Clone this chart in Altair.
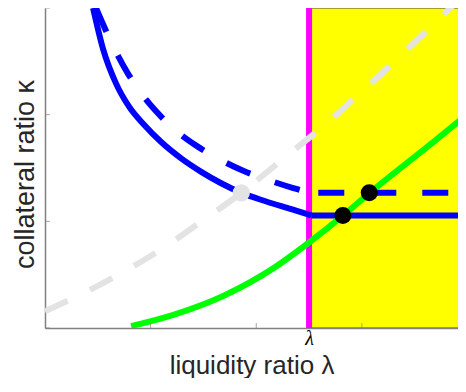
import altair as alt
import pandas as pd

# ---- data ----
LAMBDA = 2.5
X_DOMAIN = [0, 3.91]
Y_DOMAIN = [0, 3]
x_tick_values = [1, 2, 3]
y_tick_values = [0, 1, 2, 3]

region_x = [2.5, 4.0]
region_y = [0.0, 3.0]

# blue solid: curved part, then flat part right of lambda
blue_solid_x = [0.455, 0.550, 0.673, 0.796, 0.938, 1.100, 1.289, 1.479, 1.668, 1.858, 2.095, 2.332, 2.521]
blue_solid_y = [3.0, 2.615, 2.291, 2.075, 1.905, 1.743, 1.590, 1.464, 1.357, 1.267, 1.186, 1.114, 1.055]
blue_solid_flat_x = [2.521, 4.0]
blue_solid_flat_y = [1.055, 1.055]

# blue dashed: curved part, then flat part right of lambda
blue_dash_x = [0.483, 0.578, 0.673, 0.777, 0.910, 1.052, 1.261, 1.450, 1.668, 1.877, 2.123, 2.351, 2.521]
blue_dash_y = [3.0, 2.785, 2.588, 2.399, 2.201, 2.031, 1.833, 1.698, 1.573, 1.474, 1.384, 1.312, 1.267]
blue_dash_flat_x = [2.521, 4.0]
blue_dash_flat_y = [1.267, 1.267]

green_x = [0.815, 1.223, 1.697, 2.171, 2.521, 2.806, 3.052, 3.687, 4.0]
green_y = [0.018, 0.126, 0.305, 0.566, 0.818, 1.042, 1.249, 1.752, 2.004]

grey_x = [0.0, 0.654, 1.071, 1.479, 1.858, 2.237, 2.616, 2.976, 3.336, 3.678, 3.867]
grey_y = [0.157, 0.476, 0.719, 0.997, 1.267, 1.572, 1.878, 2.192, 2.525, 2.848, 3.028]

grey_dot_x = [1.858]
grey_dot_y = [1.267]

black_dot_x = [2.82, 3.07]
black_dot_y = [1.055, 1.267]

W, H = 413, 320
PAD_LEFT, PAD_BOTTOM = 37, 50

xs = alt.Scale(domain=X_DOMAIN, nice=False, zero=False)
ys = alt.Scale(domain=Y_DOMAIN, nice=False, zero=False)

AX_COLOR = "#808080"

x_axis = alt.Axis(
    values=[LAMBDA], labelExpr="'λ'", labelFont="Liberation Serif",
    labelFontStyle="italic", labelFontSize=20, labelColor="#000000",
    labelPadding=0, ticks=False, grid=False, domainColor=AX_COLOR,
    domainWidth=1.5, title="liquidity ratio λ", titleFont="Liberation Sans",
    titleFontSize=26, titleFontWeight="normal", titleColor="#262626",
    titlePadding=4,
)
y_axis = alt.Axis(
    labels=False, ticks=False, grid=False, domainColor=AX_COLOR,
    domainWidth=1.5, title="collateral ratio κ", titleFont="Liberation Sans",
    titleFontSize=27, titleFontWeight="normal", titleColor="#262626",
    titlePadding=6, titleY=166,
)


def X(field):
    return alt.X(field, scale=xs, axis=x_axis)


def Y(field):
    return alt.Y(field, scale=ys, axis=y_axis)


region = pd.DataFrame({"x": [region_x[0]], "x2": [region_x[1]],
                       "y": [region_y[0]], "y2": [region_y[1]]})
rect = alt.Chart(region).mark_rect(color="#ffff00", stroke="#444444", strokeWidth=1,
                                   clip=True).encode(
    x=X("x:Q"), x2="x2", y=Y("y:Q"), y2="y2",
)

lam = pd.DataFrame({"x": [LAMBDA], "y": [Y_DOMAIN[0]], "y2": [Y_DOMAIN[1]]})
magenta = alt.Chart(lam).mark_rule(color="#ff00ff", strokeWidth=6).encode(
    x=X("x:Q"), y=Y("y:Q"), y2="y2",
)


def line(xv, yv, color, dash=None, offset=0, interp="monotone"):
    df = pd.DataFrame({"x": xv, "y": yv, "o": list(range(len(xv)))})
    kw = dict(color=color, strokeWidth=6, interpolate=interp, clip=True, strokeCap="butt")
    if dash:
        kw["strokeDash"] = dash
        kw["strokeDashOffset"] = offset
    return alt.Chart(df).mark_line(**kw).encode(
        x=X("x:Q"), y=Y("y:Q"), order="o:Q",
    )


grey_line = line(grey_x, grey_y, "#e3e3e3", dash=[25, 25])
blue_solid = line(blue_solid_x, blue_solid_y, "#0000ff")
blue_solid_flat = line(blue_solid_flat_x, blue_solid_flat_y, "#0000ff", interp="linear")
blue_dash = line(blue_dash_x, blue_dash_y, "#0000ff", dash=[26, 26])
blue_dash_flat = line(blue_dash_flat_x, blue_dash_flat_y, "#0000ff", dash=[26, 26],
                      offset=45, interp="linear")
green = line(green_x, green_y, "#00ff00")

grey_dot = alt.Chart(pd.DataFrame({"x": grey_dot_x, "y": grey_dot_y})).mark_circle(
    color="#e3e3e3", opacity=1, size=300).encode(x=X("x:Q"), y=Y("y:Q"))

black_dots = alt.Chart(pd.DataFrame({"x": black_dot_x, "y": black_dot_y})).mark_circle(
    color="#000000", opacity=1, size=290).encode(x=X("x:Q"), y=Y("y:Q"))

# inward-pointing tick marks
yt = alt.Chart(pd.DataFrame({"v": y_tick_values, "x0": [0.0] * len(y_tick_values)})).mark_tick(
    color=AX_COLOR, thickness=1, size=5, orient="horizontal", xOffset=2.5).encode(
    x=X("x0:Q"), y=Y("v:Q"))
xt = alt.Chart(pd.DataFrame({"v": x_tick_values, "y0": [0.0] * len(x_tick_values)})).mark_tick(
    color=AX_COLOR, thickness=1, size=5, orient="vertical", yOffset=-2.5).encode(
    x=X("v:Q"), y=Y("y0:Q"))

chart = alt.layer(
    rect, magenta, grey_line, blue_solid, blue_solid_flat, blue_dash, blue_dash_flat,
    green, grey_dot, black_dots, yt, xt
).properties(
    width=W, height=H,
    background="#ffffff",
    autosize=alt.AutoSizeParams(type="none"),
    padding={"left": PAD_LEFT, "top": 0, "right": 0, "bottom": PAD_BOTTOM},
).configure_view(stroke=None)

chart.save("out.html", embed_options={"renderer": "svg", "actions": False})
